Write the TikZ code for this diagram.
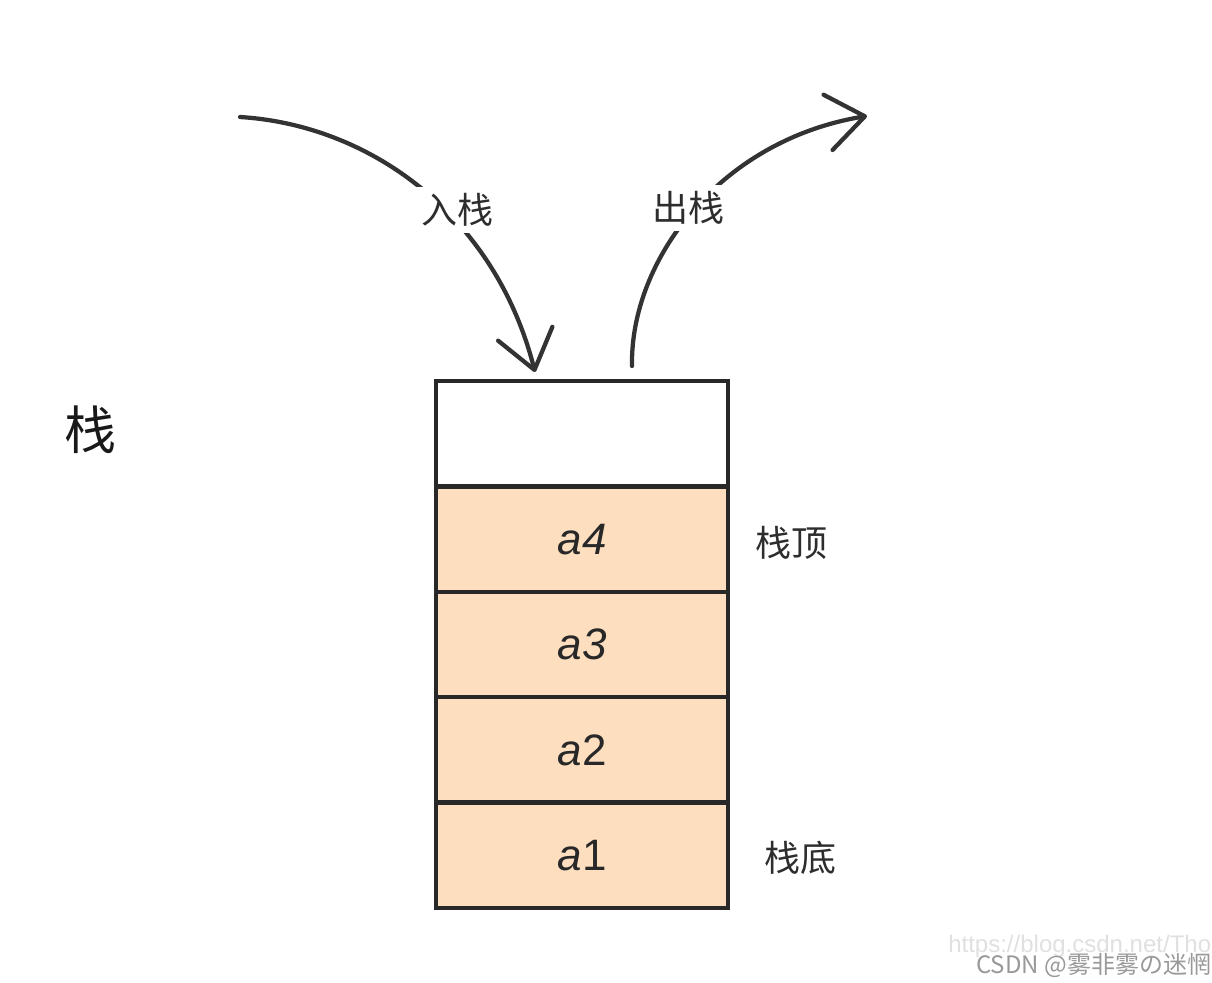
\documentclass[tikz,border=0pt]{standalone}
\usepackage{fontspec}
\setmainfont{Liberation Sans}
\newfontfamily\cjk{Noto Sans CJK SC}
\usetikzlibrary{arrows.meta}
\definecolor{peach}{RGB}{253,223,192}
\definecolor{ink}{RGB}{40,40,40}
\definecolor{labgray}{RGB}{45,45,45}
\begin{document}
\begin{tikzpicture}[x=0.75pt,y=-0.75pt,
  cell/.style={draw=ink, line width=3.2pt, minimum width=219pt, minimum height=79pt, inner sep=0pt, text=ink, font=\fontsize{33}{33}\selectfont},
  full/.style={cell, fill=peach},
  conn/.style={draw=ink!95, line width=3.2pt, line cap=round, -{Straight Barb[length=28pt,width=42pt,line width=3.2pt,round]}},
  lab/.style={font=\cjk\fontsize{27}{27}\selectfont, text=labgray, inner sep=1pt},
  gaplab/.style={lab, fill=white, inner sep=5pt},
  wmark/.style={anchor=base west, inner sep=0pt}]
\useasboundingbox (0,0) rectangle (1212,982);
\clip (0,0) rectangle (1212,982);
% stack cells
\node[cell, fill=white] (e) at (582,433.7) {};
\node[full] (c4) at (582,539.1) {\textit{a4}};
\node[full] (c3) at (582,644.5) {\textit{a3}};
\node[full] (c2) at (582,749.9) {\textit{a}2};
\node[full] (c1) at (582,855.3) {\textit{a}1};
% side labels
\node[lab] (top) at (791,543) {栈顶};
\node[lab] (bot) at (800,858) {栈底};
\node[font=\cjk\fontsize{39}{39}\selectfont, text=black!90] (title) at (90,430) {栈};
% arrows
\coordinate (inS) at (240,117);
\coordinate (inE) at (535,372);
\coordinate (outS) at (632,366);
\coordinate (outE) at (867,116);
\draw[conn] (inS) .. controls (370,125) and (495,215) .. (inE);
\draw[conn] (outS) .. controls (630,260) and (720,140) .. (outE);
\node[gaplab] (inL) at (457,210) {入栈};
\node[gaplab] (outL) at (688,208) {出栈};
% watermark
\node[wmark, text=black!12, font=\fontsize{18}{18}\selectfont] (url) at (948,952) {https://blog.csdn.net/Thor};
\node[wmark, text=black!40, font=\cjk\fontsize{18}{18}\selectfont] (wm) at (976,973) {CSDN @雾非雾の迷惘};
\end{tikzpicture}
\end{document}
